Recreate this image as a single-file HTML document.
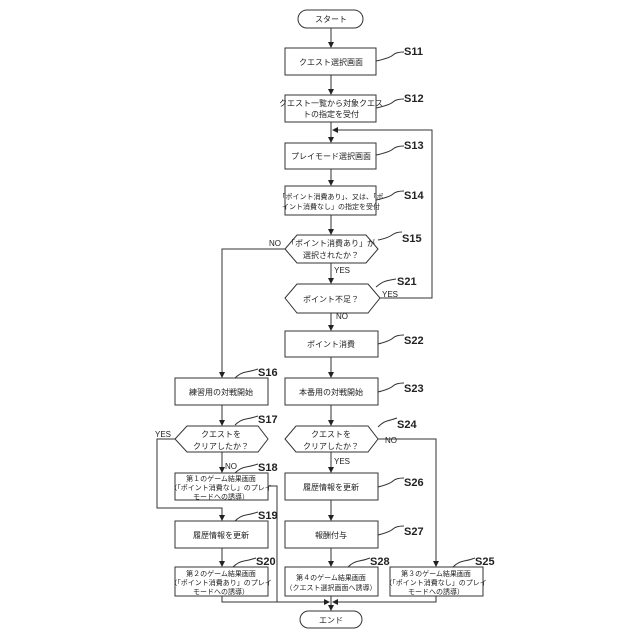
<!DOCTYPE html>
<html><head><meta charset="utf-8"><style>
html,body{margin:0;padding:0;background:#fff;width:640px;height:640px;overflow:hidden}
text{font-family:"Liberation Sans","Noto Sans CJK JP",sans-serif;fill:#222}
.t{font-size:8px;text-anchor:middle}
.s{font-size:7px;text-anchor:middle}
.l{font-size:11px;font-weight:bold}
.y{font-size:8px}
</style></head><body>
<svg width="640" height="640" viewBox="0 0 640 640" xmlns="http://www.w3.org/2000/svg">
<defs><marker id="a" markerWidth="6" markerHeight="6" refX="5" refY="3" orient="auto" markerUnits="userSpaceOnUse"><path d="M0,0 L6,3 L0,6 z" fill="#222"/></marker></defs>
<g fill="#fff" stroke="#333" stroke-width="1">
<rect x="298" y="10" width="65" height="18" rx="9"/>
<rect x="285" y="48" width="91" height="27"/>
<rect x="285" y="95" width="91" height="27"/>
<rect x="285" y="143" width="91" height="26"/>
<rect x="285" y="186" width="91" height="29"/>
<polygon points="297,235 366,235 378,249 366,263 297,263 285,249"/>
<polygon points="297,284 368,284 380,298 368,313 297,313 285,298"/>
<rect x="285" y="331" width="93" height="26"/>
<rect x="175" y="378" width="93" height="27"/>
<rect x="285" y="378" width="93" height="27"/>
<polygon points="187,426 258,426 268,439 258,452 187,452 175,439"/>
<polygon points="296,426 368,426 378,439 368,452 296,452 285,439"/>
<rect x="175" y="473" width="93" height="27"/>
<rect x="285" y="473" width="93" height="27"/>
<rect x="175" y="521" width="93" height="27"/>
<rect x="285" y="521" width="93" height="27"/>
<rect x="175" y="567" width="93" height="29"/>
<rect x="285" y="567" width="93" height="29"/>
<rect x="390" y="567" width="93" height="29"/>
<rect x="300" y="611" width="62" height="17" rx="8.5"/>
</g>
<g fill="none" stroke="#333" stroke-width="1">
<line x1="331" y1="28" x2="331" y2="47" marker-end="url(#a)"/>
<line x1="331" y1="75" x2="331" y2="94" marker-end="url(#a)"/>
<line x1="331" y1="122" x2="331" y2="142" marker-end="url(#a)"/>
<line x1="331" y1="169" x2="331" y2="185" marker-end="url(#a)"/>
<line x1="331" y1="215" x2="331" y2="234" marker-end="url(#a)"/>
<line x1="331" y1="263" x2="331" y2="283" marker-end="url(#a)"/>
<line x1="331" y1="313" x2="331" y2="330" marker-end="url(#a)"/>
<line x1="331" y1="357" x2="331" y2="377" marker-end="url(#a)"/>
<line x1="331" y1="405" x2="331" y2="425" marker-end="url(#a)"/>
<line x1="331" y1="452" x2="331" y2="472" marker-end="url(#a)"/>
<line x1="331" y1="500" x2="331" y2="520" marker-end="url(#a)"/>
<line x1="331" y1="548" x2="331" y2="566" marker-end="url(#a)"/>
<line x1="331" y1="596" x2="331" y2="610" marker-end="url(#a)"/>
<polyline points="380,298 432,298 432,130 333,130" marker-end="url(#a)"/>
<polyline points="285,249 222,249 222,377" marker-end="url(#a)"/>
<line x1="222" y1="405" x2="222" y2="425" marker-end="url(#a)"/>
<line x1="222" y1="452" x2="222" y2="472" marker-end="url(#a)"/>
<polyline points="175,439 157,439 157,508 222,508 222,520" marker-end="url(#a)"/>
<line x1="222" y1="548" x2="222" y2="566" marker-end="url(#a)"/>
<polyline points="378,439 436,439 436,566" marker-end="url(#a)"/>
<polyline points="268,486 277,486 277,602"/>
<polyline points="222,596 222,602 329,602" marker-end="url(#a)"/>
<polyline points="436,596 436,602 333,602" marker-end="url(#a)"/>
<path d="M376,61 Q390,58 393,55 T404,52"/>
<path d="M376,108 Q390,105 393,102 T404,99"/>
<path d="M376,155 Q390,152 393,149 T404,146"/>
<path d="M376,200 Q390,197 393,194 T404,191"/>
<path d="M378,240 Q388,238 392,235 T402,232"/>
<path d="M376,287 Q382,282 386,281 T396,279"/>
<path d="M378,344 Q390,341 393,338 T404,335"/>
<path d="M378,392 Q390,389 393,386 T404,383"/>
<path d="M378,427 Q383,422 387,421 T397,418"/>
<path d="M378,487 Q390,484 393,481 T404,478"/>
<path d="M378,535 Q390,532 393,529 T404,526"/>
<path d="M235,378 Q240,373 246,372 T258,369"/>
<path d="M235,425 Q240,420 246,419 T258,416"/>
<path d="M235,473 Q240,468 246,467 T258,464"/>
<path d="M235,521 Q240,516 246,515 T258,512"/>
<path d="M233,567 Q238,562 244,561 T256,558"/>
<path d="M348,567 Q353,562 359,561 T370,558"/>
<path d="M453,567 Q458,562 464,561 T475,558"/>
</g>
<text class="t" x="331" y="22">スタート</text>
<text class="t" x="331" y="65">クエスト選択画面</text>
<text class="t" x="331" y="106">クエスト一覧から対象クエス</text>
<text class="t" x="331" y="117">トの指定を受付</text>
<text class="t" x="331" y="159">プレイモード選択画面</text>
<text class="s" x="331" y="199">「ポイント消費あり」、又は、「ポ</text>
<text class="s" x="331" y="209">イント消費なし」の指定を受付</text>
<text class="t" x="331" y="246">「ポイント消費あり」が</text>
<text class="t" x="331" y="258">選択されたか？</text>
<text class="t" x="331" y="302">ポイント不足？</text>
<text class="t" x="331" y="347">ポイント消費</text>
<text class="t" x="221" y="395">練習用の対戦開始</text>
<text class="t" x="331" y="395">本番用の対戦開始</text>
<text class="t" x="221" y="437">クエストを</text>
<text class="t" x="221" y="449">クリアしたか？</text>
<text class="t" x="331" y="437">クエストを</text>
<text class="t" x="331" y="449">クリアしたか？</text>
<text class="s" x="221" y="481">第１のゲーム結果画面</text>
<text class="s" x="221" y="490">（「ポイント消費なし」のプレイ</text>
<text class="s" x="221" y="499">モードへの誘導）</text>
<text class="t" x="331" y="490">履歴情報を更新</text>
<text class="t" x="221" y="538">履歴情報を更新</text>
<text class="t" x="331" y="538">報酬付与</text>
<text class="s" x="221" y="576">第２のゲーム結果画面</text>
<text class="s" x="221" y="585">（「ポイント消費あり」のプレイ</text>
<text class="s" x="221" y="594">モードへの誘導）</text>
<text class="s" x="331" y="580">第４のゲーム結果画面</text>
<text class="s" x="331" y="590">（クエスト選択画面へ誘導）</text>
<text class="s" x="436" y="576">第３のゲーム結果画面</text>
<text class="s" x="436" y="585">（「ポイント消費なし」のプレイ</text>
<text class="s" x="436" y="594">モードへの誘導）</text>
<text class="t" x="331" y="623">エンド</text>
<text class="y" x="269" y="246">NO</text>
<text class="y" x="334" y="273">YES</text>
<text class="y" x="382" y="297">YES</text>
<text class="y" x="336" y="319">NO</text>
<text class="y" x="155" y="437">YES</text>
<text class="y" x="225" y="469">NO</text>
<text class="y" x="334" y="464">YES</text>
<text class="y" x="385" y="443">NO</text>
<text class="l" x="404" y="55">S11</text>
<text class="l" x="404" y="102">S12</text>
<text class="l" x="404" y="149">S13</text>
<text class="l" x="404" y="199">S14</text>
<text class="l" x="402" y="242">S15</text>
<text class="l" x="397" y="285">S21</text>
<text class="l" x="404" y="344">S22</text>
<text class="l" x="404" y="392">S23</text>
<text class="l" x="397" y="428">S24</text>
<text class="l" x="404" y="486">S26</text>
<text class="l" x="404" y="535">S27</text>
<text class="l" x="258" y="376">S16</text>
<text class="l" x="258" y="423">S17</text>
<text class="l" x="258" y="471">S18</text>
<text class="l" x="258" y="519">S19</text>
<text class="l" x="256" y="565">S20</text>
<text class="l" x="370" y="565">S28</text>
<text class="l" x="475" y="565">S25</text>
</svg>
</body></html>
